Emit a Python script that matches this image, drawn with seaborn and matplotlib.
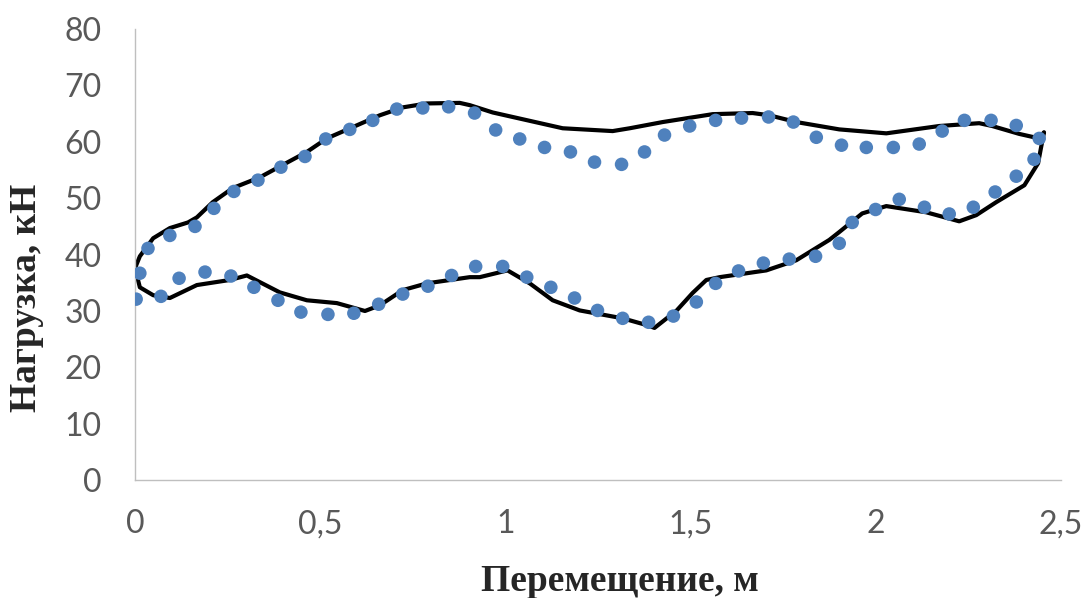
import matplotlib
matplotlib.use("Agg")
import matplotlib.pyplot as plt
import seaborn as sns
import pandas as pd

# measured points (blue dots)
dot_x = [0.003, 0.013, 0.035, 0.094, 0.162, 0.213, 0.267, 0.332, 0.394, 0.459,
         0.515, 0.580, 0.642, 0.707, 0.777, 0.847, 0.917, 0.974, 1.039, 1.106,
         1.176, 1.241, 1.314, 1.376, 1.430, 1.498, 1.568, 1.638, 1.711, 1.778,
         1.840, 1.908, 1.975, 2.048, 2.118, 2.180, 2.240, 2.312, 2.380, 2.442,
         2.428, 2.380, 2.323, 2.264, 2.199, 2.132, 2.064, 2.000, 1.937, 1.902,
         1.838, 1.767, 1.697, 1.630, 1.568, 1.516, 1.454, 1.387, 1.317, 1.249,
         1.187, 1.123, 1.058, 0.993, 0.920, 0.855, 0.791, 0.723, 0.658, 0.591,
         0.521, 0.448, 0.386, 0.321, 0.259, 0.189, 0.119, 0.070]
dot_y = [32.1, 36.7, 41.1, 43.4, 45.0, 48.2, 51.2, 53.2, 55.5, 57.4,
         60.5, 62.2, 63.8, 65.8, 66.0, 66.2, 65.1, 62.1, 60.5, 59.0,
         58.2, 56.4, 56.0, 58.2, 61.2, 62.8, 63.8, 64.2, 64.4, 63.5,
         60.8, 59.4, 59.0, 59.0, 59.6, 61.9, 63.8, 63.8, 62.9, 60.6,
         56.9, 53.9, 51.1, 48.4, 47.2, 48.4, 49.8, 48.0, 45.7, 42.0,
         39.7, 39.2, 38.5, 37.1, 34.9, 31.6, 29.1, 28.0, 28.7, 30.1,
         32.3, 34.2, 36.0, 37.9, 37.9, 36.3, 34.4, 33.0, 31.2, 29.6,
         29.4, 29.8, 31.9, 34.2, 36.2, 36.9, 35.8, 32.6]

# model curve (black loop)
line_x = [0.000, 0.013, 0.049, 0.094, 0.143, 0.167, 0.210, 0.264, 0.337, 0.399,
          0.464, 0.518, 0.588, 0.661, 0.723, 0.788, 0.877, 0.904, 0.966, 1.020,
          1.155, 1.290, 1.336, 1.425, 1.560, 1.668, 1.713, 1.786, 1.902, 2.029,
          2.172, 2.280, 2.315, 2.388, 2.442, 2.455, 2.447, 2.439, 2.402, 2.326,
          2.272, 2.226, 2.137, 2.029, 1.964, 1.902, 1.875, 1.786, 1.705, 1.579,
          1.543, 1.506, 1.463, 1.403, 1.382, 1.317, 1.201, 1.128, 1.066, 1.006,
          0.931, 0.904, 0.788, 0.723, 0.661, 0.621, 0.545, 0.464, 0.391, 0.302,
          0.256, 0.167, 0.094, 0.049, 0.013, 0.000]
line_y = [37.6, 39.7, 42.9, 44.7, 45.7, 46.6, 49.3, 51.8, 53.7, 55.9,
          58.2, 60.6, 62.6, 64.7, 66.1, 66.8, 66.9, 66.5, 65.2, 64.4,
          62.4, 61.9, 62.4, 63.5, 64.9, 65.1, 64.7, 63.5, 62.2, 61.5,
          62.8, 63.3, 62.8, 61.4, 60.6, 61.7, 59.0, 56.2, 52.3, 49.3,
          47.0, 45.9, 47.5, 48.6, 47.3, 44.0, 42.6, 39.0, 37.2, 36.0,
          35.5, 33.2, 30.1, 27.0, 27.5, 28.7, 30.1, 31.9, 34.9, 37.2,
          36.0, 36.0, 34.9, 33.7, 31.0, 30.0, 31.4, 31.9, 33.3, 36.3,
          35.5, 34.6, 32.3, 32.8, 34.2, 37.6]

x_ticks = [0, 0.5, 1, 1.5, 2, 2.5]
x_labels = ["0", "0,5", "1", "1,5", "2", "2,5"]
y_ticks = [0, 10, 20, 30, 40, 50, 60, 70, 80]

dots = pd.DataFrame({"x": dot_x, "y": dot_y})
curve = pd.DataFrame({"x": line_x, "y": line_y})

sns.set_style("white")
fig = plt.figure(figsize=(10.89, 5.98), dpi=100)
ax = fig.add_axes([0.124, 0.197, 0.850, 0.7545])

sns.lineplot(data=curve, x="x", y="y", sort=False, estimator=None,
             color="black", linewidth=3, ax=ax, zorder=2)
sns.scatterplot(data=dots, x="x", y="y", color="#4F81BD", s=95,
                edgecolor="none", ax=ax, zorder=3)

ax.set_xlim(0, 2.5)
ax.set_ylim(0, 80)
ax.set_xticks(x_ticks)
ax.set_xticklabels(x_labels)
ax.set_yticks(y_ticks)
ax.tick_params(axis="both", length=0, labelsize=23, labelcolor="#595959")
ax.tick_params(axis="x", pad=21)
ax.tick_params(axis="y", pad=24)
for lbl in ax.get_xticklabels() + ax.get_yticklabels():
    lbl.set_family("Lato")

for s in ["top", "right"]:
    ax.spines[s].set_visible(False)
for s in ["left", "bottom"]:
    ax.spines[s].set_color("#BFBFBF")
    ax.spines[s].set_linewidth(1)

ax.set_xlabel("Перемещение, м", fontsize=27, fontweight="bold",
              family="Liberation Serif")
ax.set_ylabel("Нагрузка, кН", fontsize=27, fontweight="bold",
              family="Liberation Serif")
ax.xaxis.set_label_coords(0.5235, -0.185)
ax.yaxis.set_label_coords(-0.098, 0.405)

fig.savefig("out.png", dpi=100)
